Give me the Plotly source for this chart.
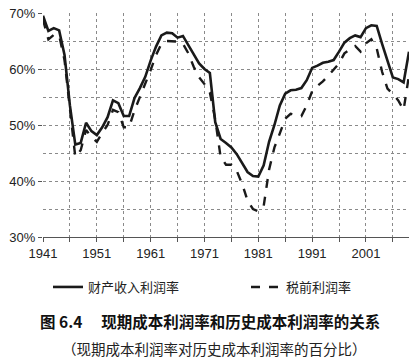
import plotly.graph_objects as go

years = list(range(1941, 2010))
property_income_rate = [
    69.5, 66.8, 67.3, 66.9, 62.5, 53.5, 46.5, 46.8, 50.4, 48.9,
    48.2, 49.6, 51.4, 54.4, 53.9, 51.6, 51.6, 54.8, 56.6, 58.6,
    61.5, 64.0, 66.0, 66.5, 66.4, 65.6, 65.9, 64.3, 62.5, 61.0,
    60.0, 59.3, 50.5, 47.5, 46.8, 46.0, 44.8, 43.2, 41.6, 40.9,
    40.8, 42.8, 47.0, 50.0, 53.5, 55.6, 56.2, 56.3, 56.6, 58.0,
    60.2, 60.6, 61.1, 61.3, 61.6, 63.1, 64.7, 65.5, 66.0, 65.7,
    67.3, 67.8, 67.7, 64.5, 61.5, 58.5, 58.2, 57.6, 63.1,
]
pretax_rate = [
    68.8, 65.3, 66.1, 66.0, 61.6, 53.0, 44.3, 45.5, 49.1, 47.9,
    47.0, 48.6, 50.0, 52.7, 52.3, 49.6, 49.6, 52.6, 55.0, 57.1,
    59.8, 62.5, 64.5, 65.0, 65.0, 64.9, 64.5, 62.8, 60.4, 58.5,
    57.3, 55.8, 51.0, 44.3, 42.9, 42.9, 41.8, 39.5, 36.5, 35.0,
    34.6, 35.5, 42.0, 46.0, 48.5, 51.1, 52.0, 51.8, 51.6, 53.5,
    56.0, 57.0, 57.8, 58.8, 60.0, 61.0, 62.8, 63.5, 64.1, 63.1,
    64.6, 65.3, 63.7, 59.5, 56.5, 55.5, 54.4, 52.7, 58.9,
]
series_names = ["财产收入利润率", "税前利润率"]
x_ticks = [1941, 1951, 1961, 1971, 1981, 1991, 2001]
y_ticks = [30, 40, 50, 60, 70]
y_tick_labels = ["30%", "40%", "50%", "60%", "70%"]
title_text = "图 6.4　 现期成本利润率和历史成本利润率的关系"
subtitle_text = "（现期成本利润率对历史成本利润率的百分比）"

# the page body margin is removed below, so the figure fills the 420x360 window
W, H = 420, 360
L, R, T, B = 43, 11, 13, 123
PW, PH = W - L - R, H - T - B


def px_x(x):
    return (x - L) / PW


def px_y(y):
    return (H - B - y) / PH


fig = go.Figure()
fig.add_trace(go.Scatter(x=years, y=property_income_rate, name=series_names[0],
                         mode="lines", line=dict(color="#1a1a1a", width=2.6),
                         legend="legend"))
fig.add_trace(go.Scatter(x=years, y=pretax_rate, name=series_names[1],
                         mode="lines", line=dict(color="#1a1a1a", width=2.4, dash="dash"),
                         legend="legend2"))

legend_font = dict(family="Noto Sans CJK SC", size=13, color="#222")
fig.update_layout(
    width=W, height=H,
    margin=dict(l=L, r=R, t=T, b=B, autoexpand=False),
    paper_bgcolor="white", plot_bgcolor="white",
    font=dict(family="Liberation Sans, Arial, sans-serif", size=13, color="#222"),
    showlegend=True,
    legend=dict(orientation="h", xref="container", yref="container",
                x=48 / W, xanchor="left", y=1 - 272 / H, yanchor="top",
                font=legend_font, bgcolor="rgba(0,0,0,0)"),
    legend2=dict(orientation="h", xref="container", yref="container",
                 x=246 / W, xanchor="left", y=1 - 272 / H, yanchor="top",
                 font=legend_font, bgcolor="rgba(0,0,0,0)"),
    annotations=[
        dict(text="<b>" + title_text + "</b>", xref="paper", yref="paper",
             x=px_x(210), y=px_y(321), xanchor="center", yanchor="middle", showarrow=False,
             font=dict(family="Noto Sans CJK SC", size=15.5, color="#111")),
        dict(text=subtitle_text, xref="paper", yref="paper",
             x=px_x(214), y=px_y(348), xanchor="center", yanchor="middle", showarrow=False,
             font=dict(family="Noto Sans CJK SC", size=14.5, color="#222")),
    ],
)
fig.update_xaxes(range=[1941, 2009], tickvals=x_ticks, ticktext=[str(v) for v in x_ticks],
                 showgrid=True, gridcolor="#8a8a8a", griddash="dot", gridwidth=1,
                 minor=dict(dtick=5, tick0=1941, showgrid=True, gridcolor="#8a8a8a",
                            griddash="dot", ticks="outside", ticklen=4, tickcolor="#555"),
                 ticks="outside", ticklen=4, tickcolor="#555",
                 showline=True, linecolor="#555", linewidth=1,
                 zeroline=False, tickfont=dict(size=13), ticklabeloverflow="allow")
fig.update_yaxes(range=[30, 70], tickvals=y_ticks, ticktext=y_tick_labels,
                 showgrid=True, gridcolor="#8a8a8a", griddash="dot", gridwidth=1,
                 minor=dict(dtick=5, tick0=30, showgrid=True, gridcolor="#8a8a8a", griddash="dot"),
                 ticks="outside", ticklen=4, tickcolor="#555",
                 showline=False, zeroline=False, tickfont=dict(size=13),
                 ticklabeloverflow="allow")

fig.write_html("out.html", config={"displayModeBar": False},
               post_script="document.body.style.margin='0';")
